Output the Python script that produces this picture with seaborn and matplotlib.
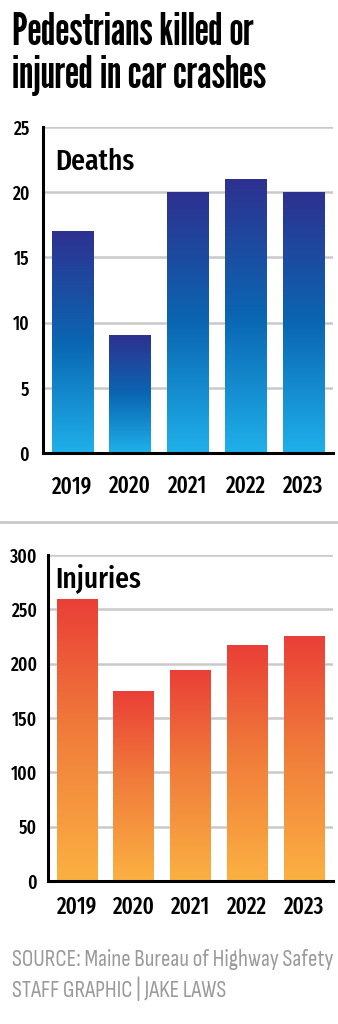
import numpy as np
import pandas as pd
import matplotlib
matplotlib.use("Agg")
import matplotlib.pyplot as plt
from matplotlib.colors import LinearSegmentedColormap
import seaborn as sns

# ---- data ----
years = ["2019", "2020", "2021", "2022", "2023"]
deaths = [17, 9, 20, 21, 20]
injuries = [259, 174, 194, 217, 225]
deaths_ticks = [0, 5, 10, 15, 20, 25]
injuries_ticks = [0, 50, 100, 150, 200, 250, 300]
title_lines = ["Pedestrians killed or", "injured in car crashes"]
source = "SOURCE: Maine Bureau of Highway Safety"
credit = "STAFF GRAPHIC | JAKE LAWS"

TITLE_FONT = ["League Gothic", "Fira Sans Extra Condensed", "DejaVu Sans"]
TICK_FONT = ["Fira Sans Extra Condensed", "DejaVu Sans"]
SRC_FONT = ["Sofia Sans Condensed", "DejaVu Sans"]

sns.set_theme(style="white")
plt.rcParams["font.family"] = TICK_FONT

fig = plt.figure(figsize=(3.38, 10.24), dpi=100)
W, H = 338, 1024
renderer = fig.canvas.get_renderer()

def fx(px):
    return px / W

def fy(py):
    return 1 - py / H

def fit(t, width_px):
    ext = t.get_window_extent(renderer=renderer)
    t.set_fontsize(t.get_fontsize() * width_px / ext.width)

deaths_cmap = LinearSegmentedColormap.from_list(
    "d", [(0, "#1fb0ea"), (0.5, "#0a66b2"), (1.0, "#2e3190")])
inj_cmap = LinearSegmentedColormap.from_list(
    "i", [(0, "#fbb142"), (0.55, "#f07a3a"), (1.0, "#ea3f37")])

def make(left_px, top_px, bottom_px, values, ticks, label, label_base_px, cmap, xpad, ypad):
    rect = [fx(left_px), fy(bottom_px), fx(333) - fx(left_px), fy(top_px) - fy(bottom_px)]
    ax = fig.add_axes(rect)
    df = pd.DataFrame({"year": years, "value": values})
    sns.barplot(data=df, x="year", y="value", ax=ax, width=0.72,
                color="#0a66b2", saturation=1, zorder=2)
    grad = np.linspace(0, 1, 256).reshape(-1, 1)
    for p in list(ax.patches):
        x, w, h = p.get_x(), p.get_width(), p.get_height()
        ax.imshow(grad, extent=[x, x + w, 0, h], origin="lower",
                  aspect="auto", cmap=cmap, zorder=2.5)
        p.set_visible(False)
    ax.set_xlim(-0.51, 4.51)
    ax.set_ylim(0, ticks[-1])
    ax.set_yticks(ticks)
    ax.set_xlabel("")
    ax.set_ylabel("")
    ax.grid(False)
    for y in ticks[1:]:
        ax.axhline(y, color="#c9c9c9", lw=1.8, zorder=1)
    for s in ["top", "right"]:
        ax.spines[s].set_visible(False)
    for s in ["left", "bottom"]:
        ax.spines[s].set_color("black")
        ax.spines[s].set_linewidth(2.2)
        ax.spines[s].set_zorder(4)
    ax.tick_params(axis="x", length=0, pad=xpad, labelsize=16.5, labelcolor="black")
    ax.tick_params(axis="y", length=0, pad=ypad, labelsize=13.8, labelcolor="black")
    for lab in ax.get_xticklabels() + ax.get_yticklabels():
        lab.set_fontweight(500)
    fig.text(fx(55), fy(label_base_px), label, fontsize=21.5, fontweight=500,
             family=TICK_FONT, color="black", va="baseline", ha="left")
    return ax

make(43, 127, 453, deaths, deaths_ticks, "Deaths", 170, deaths_cmap, 16, 10)
make(48, 555, 881, injuries, injuries_ticks, "Injuries", 587, inj_cmap, 10.5, 8)

# separator line
fig.add_artist(plt.Line2D([0, 1], [fy(522), fy(522)], color="#c9c9c9", lw=2))

# title
t1 = fig.text(fx(12), fy(45), title_lines[0], fontsize=28, fontweight="bold",
              family=TITLE_FONT, color="black", ha="left", va="baseline")
fit(t1, 242)
fig.text(fx(12), fy(88), title_lines[1], fontsize=t1.get_fontsize(), fontweight="bold",
         family=TITLE_FONT, color="black", ha="left", va="baseline")

s1 = fig.text(fx(12), fy(966), source, fontsize=14, fontweight=300, family=SRC_FONT,
              color="#9a9a9a", ha="left", va="baseline")
fit(s1, 321)
fig.text(fx(12), fy(997), credit, fontsize=s1.get_fontsize(), fontweight=300, family=SRC_FONT,
         color="#9a9a9a", ha="left", va="baseline")

fig.savefig("out.png", dpi=100, facecolor="white")
